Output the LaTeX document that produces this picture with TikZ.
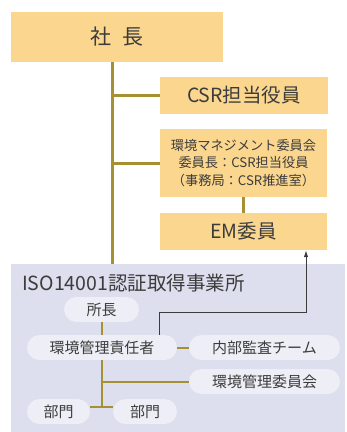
\documentclass[tikz,border=0pt]{standalone}
\usepackage{fontspec}
\setmainfont{Noto Sans CJK JP}
\usetikzlibrary{arrows.meta}
\definecolor{boxfill}{RGB}{251,214,142}
\definecolor{olive}{RGB}{166,145,50}
\definecolor{bgfill}{RGB}{221,222,238}
\definecolor{pillfill}{RGB}{238,238,246}
\definecolor{txt}{RGB}{60,60,60}
\definecolor{arr}{RGB}{60,60,60}
\tikzset{
  obox/.style={fill=boxfill, draw=none, inner sep=0pt, text=txt, align=center},
  pill/.style={fill=pillfill, draw=none, rounded corners=12.5pt, minimum height=25pt, inner sep=0pt, text=txt, font=\fontsize{15}{17}\selectfont},
  oline/.style={draw=olive, line width=3pt},
  sline/.style={draw=olive, line width=2pt},
  aline/.style={draw=arr, line width=1pt, -{Latex[length=7pt,width=4.5pt]}},
}
\begin{document}
\begin{tikzpicture}[x=1pt,y=-1pt]
\useasboundingbox (0,0) rectangle (347,432);
% background area
\node[fill=bgfill, draw=none, minimum width=334pt, minimum height=168pt, inner sep=0pt, anchor=north west] (bg) at (11,264) {};
\coordinate (trunkbot) at (112,264);
% top boxes
\node[obox, minimum width=212pt, minimum height=50pt, font=\fontsize{21}{24}\selectfont] (shacho) at (117,37) {社\hspace{0.55em}長};
\node[obox, minimum width=168pt, minimum height=37pt, font=\fontsize{19.5}{22}\selectfont] (csr) at (244,95.5) {CSR担当役員};
\node[obox, minimum width=167pt, minimum height=68pt, font=\fontsize{13.2}{17.5}\selectfont] (emc) at (243.5,163) {環境マネジメント委員会\\委員長：CSR担当役員\\（事務局：CSR推進室）};
\node[obox, minimum width=167pt, minimum height=37pt, font=\fontsize{19.5}{22}\selectfont] (em) at (243.5,231.5) {EM委員};
% trunk
\draw[oline] (shacho.south -| trunkbot) -- (trunkbot);
\draw[oline] (trunkbot |- csr.west) -- (csr.west);
\draw[oline] (trunkbot |- emc.west) -- (emc.west);
\draw[oline] (emc.south) -- (em.north);
% lower section
\node[anchor=west, text=txt, font=\fontsize{19.5}{22}\selectfont, inner sep=0pt] (title) at (22,283) {ISO14001認証取得事業所};
\node[pill, minimum width=75pt] (shocho) at (101.5,309.5) {所長};
\node[pill, minimum width=150pt] (sekinin) at (102,347.5) {環境管理責任者};
\node[pill, minimum width=151pt] (naibu) at (264.5,347.5) {内部監査チーム};
\node[pill, minimum width=151pt] (iinkai) at (264.5,381.5) {環境管理委員会};
\node[pill, minimum width=63pt] (bu1) at (58.5,411.5) {部門};
\node[pill, minimum width=64pt] (bu2) at (145,411.5) {部門};
\coordinate (jn) at (102,407);
\draw[sline] (shocho.south) -- (sekinin.north -| shocho.south);
\draw[sline] (sekinin.east) -- (naibu.west);
\draw[sline] (sekinin.south) -- (jn);
\draw[sline] (jn |- iinkai.west) -- (iinkai.west);
\draw[sline] (bu1.east |- jn) -- (bu2.west |- jn);
\coordinate (turn) at (159,312);
\draw[aline] (sekinin.north -| turn) -- (turn) -- (turn -| 306,0) -- (em.south -| 306,0);
\end{tikzpicture}
\end{document}
